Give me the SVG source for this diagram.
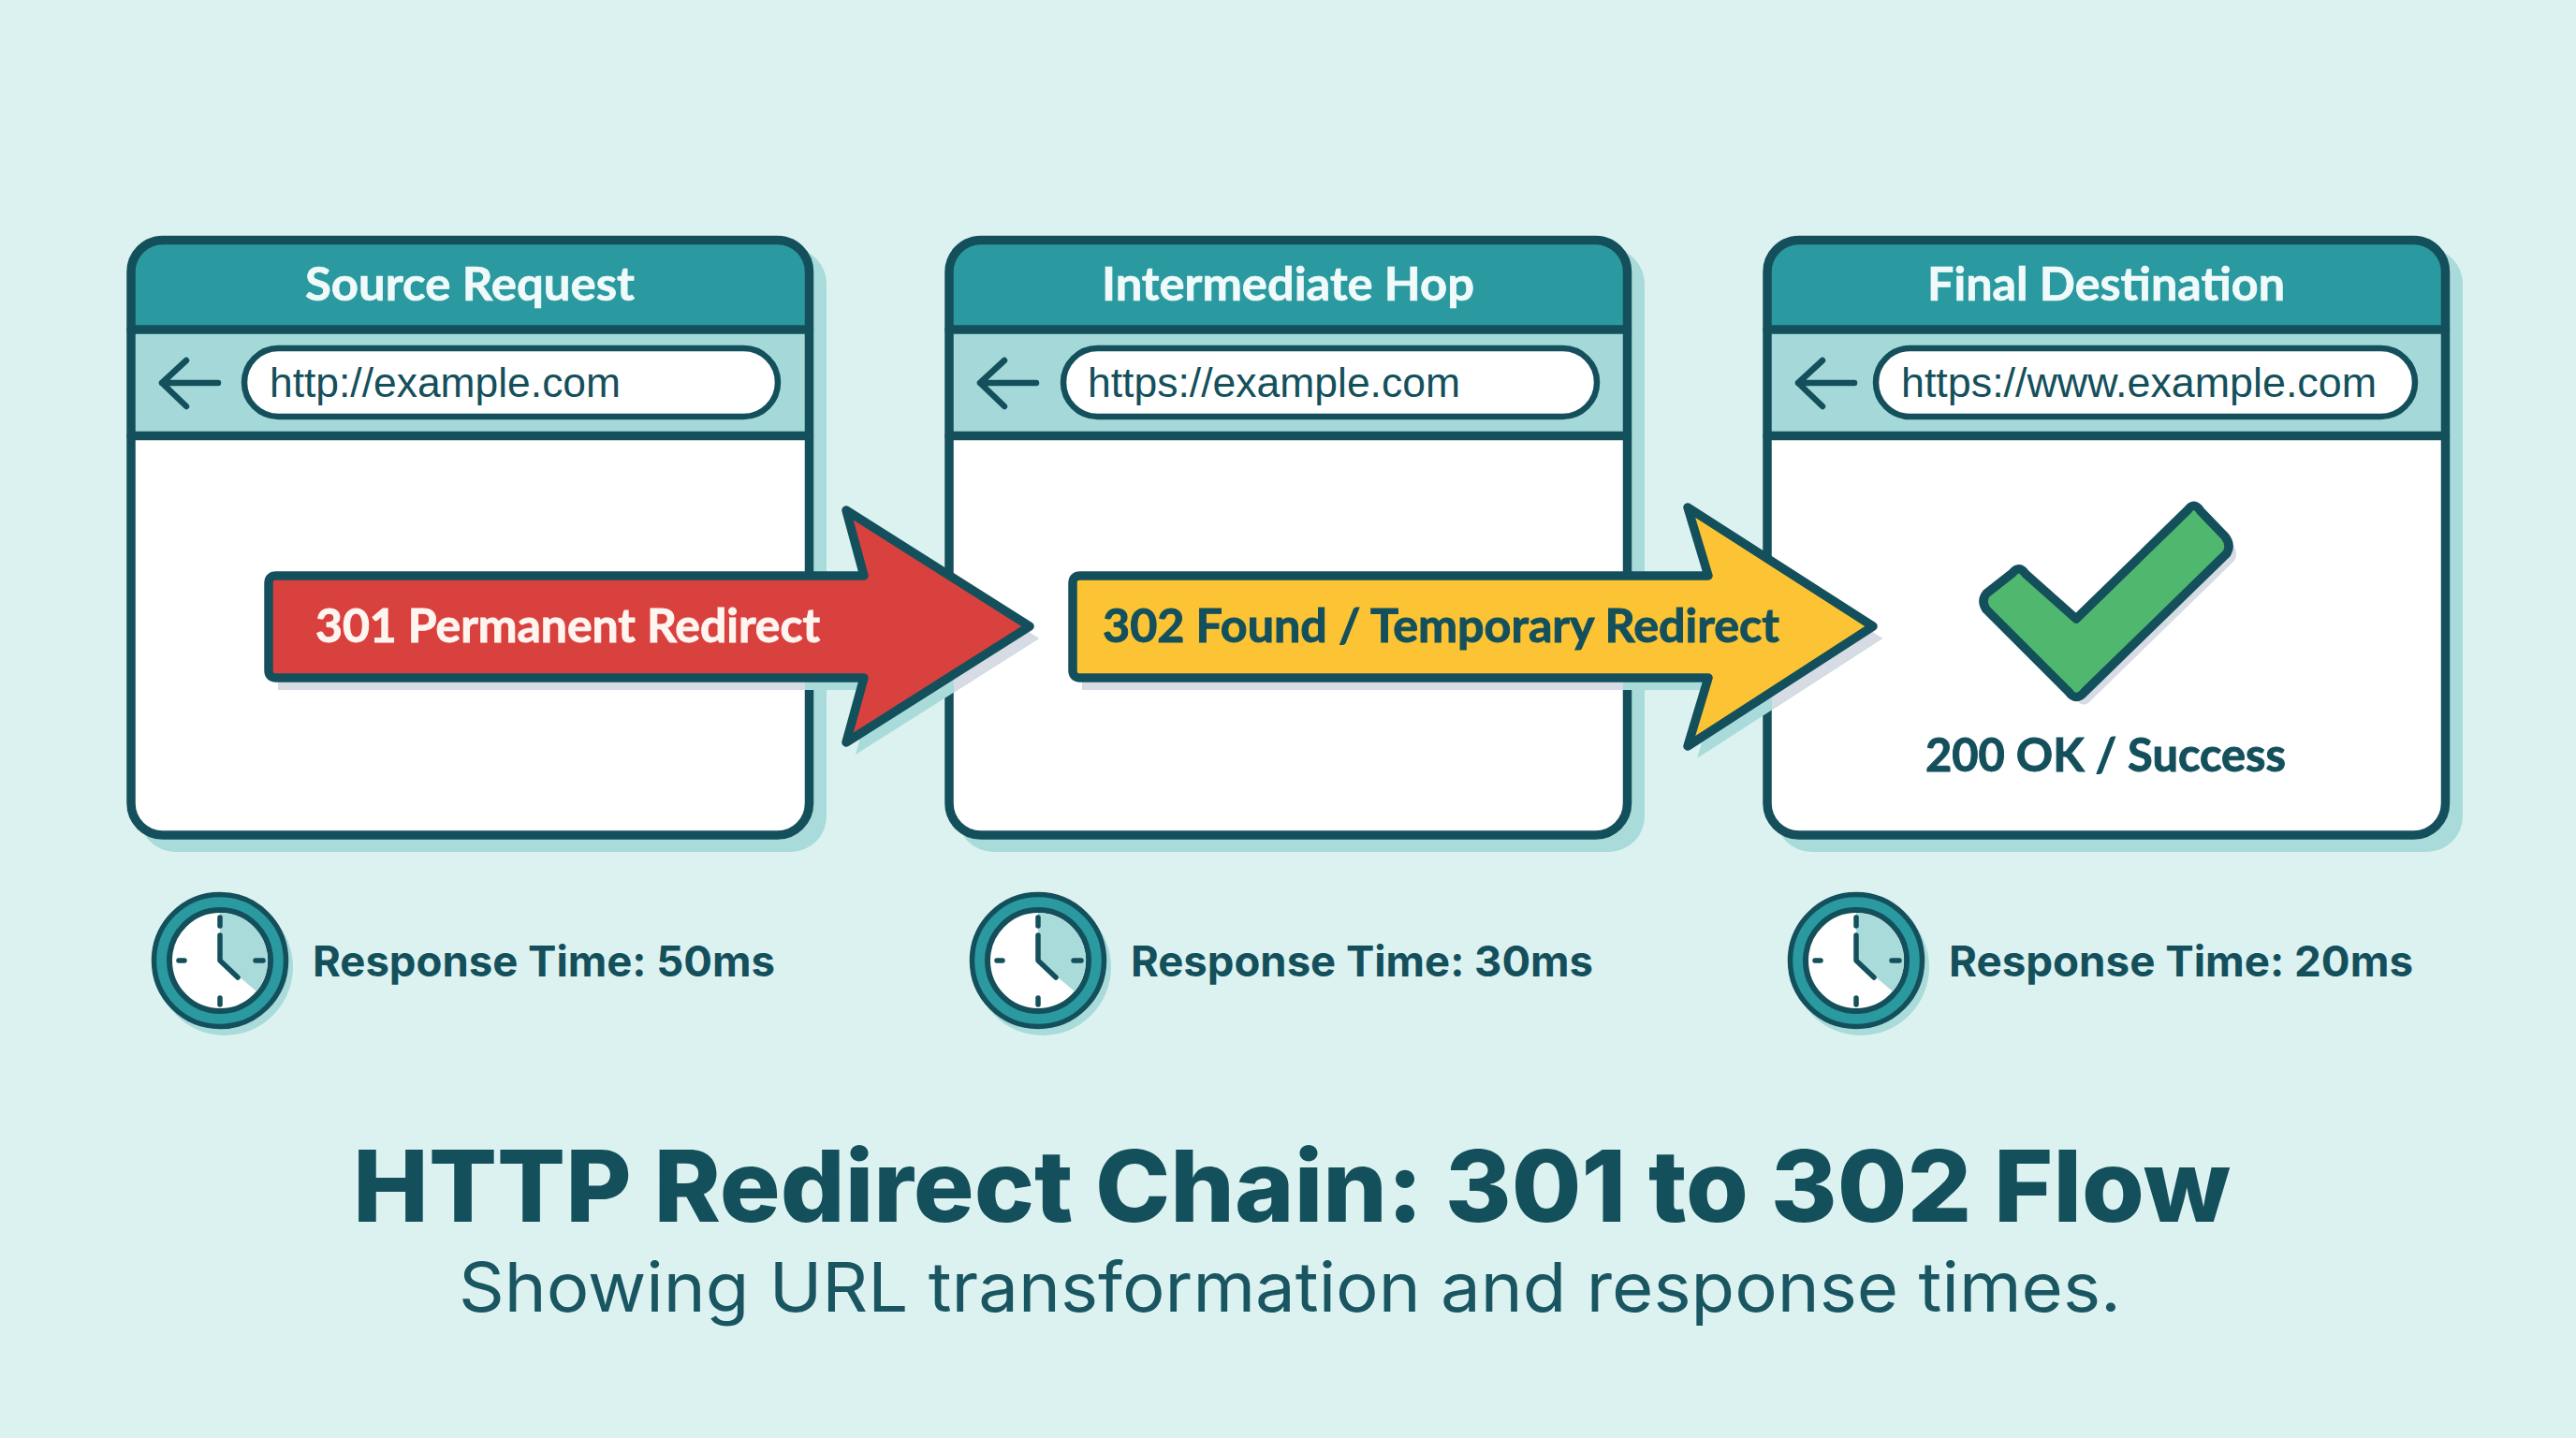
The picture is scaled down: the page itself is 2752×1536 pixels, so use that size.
<svg xmlns="http://www.w3.org/2000/svg" width="2752" height="1536" viewBox="0 0 2752 1536">
<style>
.ln{stroke:#14505c;stroke-width:9.5;stroke-linejoin:round;stroke-linecap:round}
.hd{font:700 49px Lato,sans-serif;fill:#f0fafa;stroke:#f0fafa;stroke-width:.7;text-anchor:middle}
.url{font:400 45px "Liberation Sans",sans-serif;fill:#14505c}
.lb{font:700 50px Lato,sans-serif;stroke-width:1}
.rt{font:700 45px Inter,sans-serif;fill:#14505c}
.tick{stroke:#14505c;stroke-width:5.500;stroke-linecap:round;fill:none}
.shT{fill:#a9dbda}.shG{fill:#d6dbe4}
</style>
<defs>
<clipPath id="inner"><rect x="145" y="470" width="715" height="418"/><rect x="1019" y="470" width="715" height="418"/><rect x="1893" y="470" width="715" height="418"/></clipPath>
<g id="card">
<rect class="shT" x="149" y="265" width="734" height="645" rx="38"/>
<rect x="140" y="256.5" width="724.5" height="635.5" rx="34" fill="#fff"/>
<path d="M140 352V290.5A34 34 0 0 1 174 256.5H830.5A34 34 0 0 1 864.5 290.5V352Z" fill="#2a9aa0"/>
<rect x="140" y="352" width="724.5" height="113.5" fill="#a5d9d9"/>
<path class="ln" fill="none" d="M140 352H864.5M140 465.5H864.5"/>
<rect class="ln" fill="none" x="140" y="256.5" width="724.5" height="635.5" rx="34"/>
<path d="M199 385L173 409L199 434M173 409H233" fill="none" stroke="#14505c" stroke-width="6.5" stroke-linecap="round" stroke-linejoin="round"/>
</g>
<g id="clock">
<circle cx="240" cy="1033" r="73" fill="#a9dbda"/>
<circle cx="235" cy="1026" r="70.500" fill="#2a9aa0" stroke="#14505c" stroke-width="5.500"/>
<circle cx="235" cy="1026" r="54" fill="#fff" stroke="#14505c" stroke-width="6"/>
<path d="M235 975A51 51 0 0 1 274 1059L235 1026Z" fill="#a9dbda"/>
<path class="tick" d="M235 980V989M235 1066V1073M191 1026H197M273 1026H281"/>
<path class="tick" stroke-linejoin="round" d="M235 999V1026L254 1044"/>
</g>
</defs>
<rect id="background" width="2752" height="1536" fill="#dcf2f0"/>
<g id="node-source"><use href="#card"/>
<text class="hd" x="502" y="321" textLength="352" lengthAdjust="spacingAndGlyphs">Source Request</text>
<rect class="ln" style="stroke-width:6.500" x="261" y="372" width="570" height="73" rx="36.500" fill="#fff"/>
<text class="url" x="288" y="424" textLength="375" lengthAdjust="spacingAndGlyphs">http://example.com</text></g>
<g id="node-intermediate"><use href="#card" x="874"/>
<text class="hd" x="1376" y="321" textLength="398" lengthAdjust="spacingAndGlyphs">Intermediate Hop</text>
<rect class="ln" style="stroke-width:6.500" x="1136" y="372" width="570" height="73" rx="36.500" fill="#fff"/>
<text class="url" x="1162" y="424" textLength="398" lengthAdjust="spacingAndGlyphs">https://example.com</text></g>
<g id="node-final"><use href="#card" x="1748"/>
<text class="hd" x="2250" y="321" textLength="382" lengthAdjust="spacingAndGlyphs">Final Destination</text>
<rect class="ln" style="stroke-width:6.500" x="2004" y="372" width="576" height="73" rx="36.500" fill="#fff"/>
<text class="url" x="2031" y="424" textLength="508" lengthAdjust="spacingAndGlyphs">https://www.example.com</text>
<path id="check-shadow" class="shG" d="M2158 619Q2165 611 2172 621L2226 669L2345 553Q2352 543 2359 554L2385 581Q2392 590 2387 599L2235 747Q2226 758 2218 747L2130 659Q2124 650 2130 642Z"/>
<path id="check" class="ln" fill="#50b76e" d="M2150 612Q2157 603 2164 613L2218 661L2337 545Q2344 535 2351 546L2377 573Q2384 582 2379 591L2227 739Q2218 750 2210 739L2122 651Q2116 642 2122 634Z"/>
<text class="lb" x="2057" y="824" textLength="385" lengthAdjust="spacingAndGlyphs" fill="#14505c" stroke="#14505c">200 OK / Success</text></g>
<g id="connectors">
<g id="connector-301">
<path class="shT" d="M297 628H933L914 558L1110 682L914 806L933 737H297Z"/>
<path class="shG" clip-path="url(#inner)" d="M297 628H933L914 558L1110 682L914 806L933 737H297Z"/>
<path class="ln" fill="#d9413f" d="M295 615H923L904 545L1100 669L904 793L923 724H295Q287 724 287 716V623Q287 615 295 615Z"/>
<text class="lb" x="337" y="686" textLength="539" lengthAdjust="spacingAndGlyphs" fill="#fff5f0" stroke="#fff5f0">301 Permanent Redirect</text></g>
<g id="connector-302">
<path class="shT" d="M1156 628H1835L1813 555L2011 682L1813 810L1835 737H1156Z"/>
<path class="shG" clip-path="url(#inner)" d="M1156 628H1835L1813 555L2011 682L1813 810L1835 737H1156Z"/>
<path class="ln" fill="#fcc434" d="M1154 615H1825L1803 542L2001 669L1803 797L1825 724H1154Q1146 724 1146 716V623Q1146 615 1154 615Z"/>
<text class="lb" x="1178" y="686" textLength="723" lengthAdjust="spacingAndGlyphs" fill="#14505c" stroke="#14505c">302 Found / Temporary Redirect</text></g>
</g>
<g id="time-50"><use href="#clock"/><text class="rt" x="334" y="1043" textLength="494" lengthAdjust="spacingAndGlyphs">Response Time: 50ms</text></g>
<g id="time-30"><use href="#clock" x="874"/><text class="rt" x="1208" y="1043" textLength="494" lengthAdjust="spacingAndGlyphs">Response Time: 30ms</text></g>
<g id="time-20"><use href="#clock" x="1748"/><text class="rt" x="2082" y="1043" textLength="496" lengthAdjust="spacingAndGlyphs">Response Time: 20ms</text></g>
<g id="title-block">
<text x="377" y="1305" textLength="2006" lengthAdjust="spacingAndGlyphs" font-family="Inter,sans-serif" font-weight="800" font-size="106" fill="#14505c">HTTP Redirect Chain: 301 to 302 Flow</text>
<text x="490" y="1401" textLength="1776" lengthAdjust="spacingAndGlyphs" font-family="Inter,sans-serif" font-weight="400" font-size="73" fill="#1a5661">Showing URL transformation and response times.</text>
</g>
</svg>
